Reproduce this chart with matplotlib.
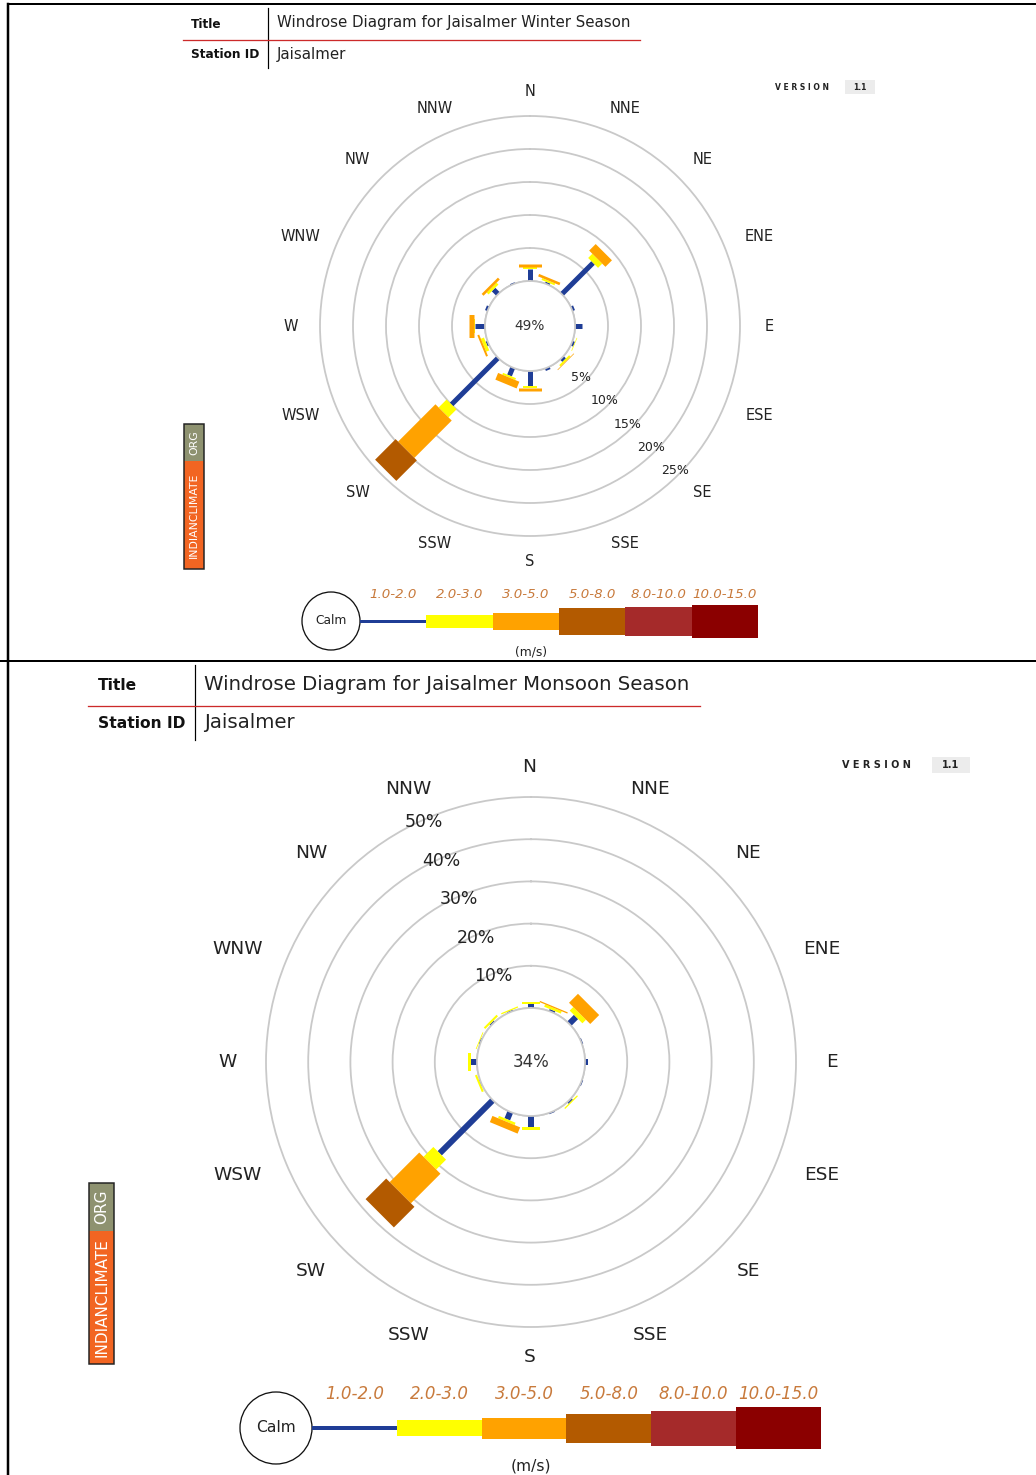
import numpy as np
import matplotlib.pyplot as plt
from matplotlib.patches import Rectangle, Circle

W, H = 1036, 1475
PT = 0.72  # points per pixel at dpi 100
GRID = "#c9c9c9"

directions = ["N", "NNE", "NE", "ENE", "E", "ESE", "SE", "SSE",
              "S", "SSW", "SW", "WSW", "W", "WNW", "NW", "NNW"]
speed_classes = ["1.0-2.0", "2.0-3.0", "3.0-5.0", "5.0-8.0", "8.0-10.0", "10.0-15.0"]
class_colors = ["#1f3d96", "#ffff00", "#ffa200", "#b35a00", "#a52a2a", "#8b0000"]

# winter season, % of time for each direction and speed class (m/s)
winter_1_2 = [1.8, 0.3, 6.7, 0.4, 1.0, 0.4, 0.5, 0.4, 2.2, 1.3, 10.0, 0.3, 1.5, 0.4, 1.0, 0.2]
winter_2_3 = [0.3, 0.3, 0.9, 0.0, 0.0, 0.1, 0.3, 0.0, 0.3, 0.3, 1.7, 0.5, 0.2, 0.0, 0.4, 0.0]
winter_3_5 = [0.5, 0.4, 1.4, 0.0, 0.0, 0.0, 0.1, 0.0, 0.6, 1.1, 8.0, 0.3, 0.7, 0.0, 0.4, 0.0]
winter_5_8 = [0, 0, 0, 0, 0, 0, 0, 0, 0, 0, 4.4, 0, 0, 0, 0, 0]
winter_8_10 = [0] * 16
winter_10_15 = [0] * 16
winter_calm = 49

# monsoon season
monsoon_1_2 = [1.0, 0.5, 2.3, 0.3, 0.6, 0.3, 0.5, 0.3, 2.5, 1.9, 17.8, 0.2, 1.5, 0.3, 0.4, 0.3]
monsoon_2_3 = [0.5, 0.6, 1.2, 0.0, 0.0, 0.0, 0.3, 0.0, 0.8, 0.6, 3.3, 0.5, 0.7, 0.2, 0.5, 0.3]
monsoon_3_5 = [0.0, 0.3, 3.0, 0.0, 0.0, 0.0, 0.0, 0.0, 0.0, 1.6, 9.9, 0.0, 0.0, 0.0, 0.0, 0.0]
monsoon_5_8 = [0, 0, 0, 0, 0, 0, 0, 0, 0, 0, 6.9, 0, 0, 0, 0, 0]
monsoon_8_10 = [0] * 16
monsoon_10_15 = [0] * 16
monsoon_calm = 34

fig = plt.figure(figsize=(W / 100, H / 100), dpi=100)
bg = fig.add_axes([0, 0, 1, 1])
bg.set_xlim(0, W)
bg.set_ylim(H, 0)
bg.axis("off")

# page frame lines
bg.plot([8, W], [4, 4], color="black", lw=2 * PT)
bg.plot([8, 8], [4, H], color="black", lw=2.5 * PT)
bg.plot([0, W], [661, 661], color="black", lw=2 * PT)


def draw_rose(cx, cy, scale, r0_px, rmax, step, series, widths, calm, fs,
              lab_r, char_w, ring_ang, ring_off, lab_dx=0):
    r0 = r0_px / scale
    R = (rmax + r0) * scale
    ax = fig.add_axes([(cx - R) / W, 1 - (cy + R) / H, 2 * R / W, 2 * R / H],
                      projection="polar")
    ax.set_theta_zero_location("N")
    ax.set_theta_direction(-1)
    ax.set_facecolor("none")
    ax.set_xticks([])
    ax.set_yticks(np.arange(0, rmax, step))
    ax.set_yticklabels([])
    ax.yaxis.grid(True, color=GRID, lw=1.3)
    for sp in ax.spines.values():
        sp.set_color(GRID)
        sp.set_linewidth(1.3)

    theta = np.deg2rad(np.arange(len(directions)) * 22.5)
    base = np.zeros(len(directions))
    for vals, col, w in zip(series, class_colors, widths):
        for t, b, v in zip(theta, base, vals):
            if v > 0:
                ax.plot([t, t], [b, b + v], color=col, lw=w * PT,
                        solid_capstyle="butt")
        base = base + np.array(vals)
    ax.set_rorigin(-r0)
    ax.set_rlim(0, rmax)

    for v in np.arange(step, rmax + 1, step):
        ax.text(np.deg2rad(ring_ang), v - ring_off, f"{v}%", fontsize=fs[1],
                ha="center", va="center", color="#222222")
    for d, t in zip(directions, theta):
        shift = char_w * len(d) / 2 * np.sin(t) + lab_dx
        ax.annotate(d, xy=(t, lab_r / scale - r0), xytext=(shift * PT, 0),
                    textcoords="offset points", fontsize=fs[0], ha="center",
                    va="center", color="#222222", annotation_clip=False)
    ax.text(0.5, 0.5, f"{calm}%", transform=ax.transAxes, fontsize=fs[2],
            ha="center", va="center", color="#333333")
    return ax


def header(x_lab, x_sep, x_red0, x_red1, y_title, y_red, y_sta, y0, y1,
           title, station, fs_lab, fs_txt):
    bg.text(x_lab, y_title + 2, "Title", fontsize=fs_lab, weight="bold",
            va="center", ha="left", color="#111111")
    bg.text(x_lab, y_sta, "Station ID", fontsize=fs_lab, weight="bold",
            va="center", ha="left", color="#111111")
    bg.text(x_sep + 9, y_title, title, fontsize=fs_txt, va="center", ha="left",
            color="#222222")
    bg.text(x_sep + 9, y_sta, station, fontsize=fs_txt, va="center", ha="left",
            color="#222222")
    bg.plot([x_sep, x_sep], [y0, y1], color="black", lw=1.2 * PT)
    bg.plot([x_red0, x_red1], [y_red, y_red], color="#cc2a2a", lw=1.3 * PT)


def version(x, y, bx, bw, bh, fs):
    bg.text(x, y, "V E R S I O N", fontsize=fs, weight="bold", va="center",
            ha="left", color="#222222")
    bg.add_patch(Rectangle((bx, y - bh / 2), bw, bh, color="#ececec", lw=0))
    bg.text(bx + bw / 2, y, "1.1", fontsize=fs, weight="bold", va="center",
            ha="center", color="#222222")


def badge(x, y0, y_mid, y1, w, fs):
    bg.add_patch(Rectangle((x, y0), w, y_mid - y0, color="#8e9270", lw=0))
    bg.add_patch(Rectangle((x, y_mid), w, y1 - y_mid, color="#f26522", lw=0))
    bg.add_patch(Rectangle((x, y0), w, y1 - y0, fill=False, ec="#222222", lw=1.5 * PT))
    bg.text(x + w / 2, (y0 + y_mid) / 2, "ORG", rotation=90, fontsize=fs,
            color="white", ha="center", va="center")
    bg.text(x + w / 2, (y_mid + y1) / 2, "INDIANCLIMATE", rotation=90, fontsize=fs,
            color="white", ha="center", va="center")


def legend(cx, cy, rc, x0, seg, heights, y_lab, x_unit, y_unit, fs, fs_lab):
    bg.add_patch(Circle((cx, cy), rc, fill=False, ec="#111111", lw=1.3 * PT))
    bg.text(cx, cy, "Calm", fontsize=fs, ha="center", va="center", color="#222222")
    for i, (lab, col, h) in enumerate(zip(speed_classes, class_colors, heights)):
        xs = x0 + i * seg
        bg.add_patch(Rectangle((xs, cy - h / 2), seg, h, color=col, lw=0))
        bg.text(xs + seg / 2, y_lab, lab, fontsize=fs_lab, style="italic",
                color="#c87a3c", ha="center", va="center")
    bg.text(x_unit, y_unit, "(m/s)", fontsize=fs, ha="center",
            va="center", color="#222222")


# ---- winter panel ----
header(191, 268, 183, 640, 22, 40, 55, 8, 68,
       "Windrose Diagram for Jaisalmer Winter Season", "Jaisalmer", 8.7, 10.8)
version(775, 87, 845, 30, 14, 5.5)
badge(184, 424, 461, 569, 20, 7.8)
draw_rose(530, 326, 6.6, 45, 25, 5,
          [winter_1_2, winter_2_3, winter_3_5, winter_5_8, winter_8_10, winter_10_15],
          [5, 14, 23, 30, 33, 36], winter_calm, (10.5, 9.0, 9.8),
          235, 9, 135, 0.8)
legend(331, 621, 29, 360, 66.3, [3, 13, 17, 27, 29, 33], 594, 531, 652, 8.8, 9.6)

# ---- monsoon panel ----
header(98, 195, 88, 700, 684, 706, 723, 665, 740,
       "Windrose Diagram for Jaisalmer Monsoon Season", "Jaisalmer", 11.2, 14.2)
version(842, 765, 932, 38, 16, 7)
badge(89, 1183, 1231, 1364, 25, 11)
draw_rose(531, 1062, 4.22, 54, 50, 10,
          [monsoon_1_2, monsoon_2_3, monsoon_3_5, monsoon_5_8, monsoon_8_10, monsoon_10_15],
          [6, 18, 30, 40, 44, 48], monsoon_calm, (13.3, 12.4, 12),
          295, 14, 336, 0.6, lab_dx=-1.5)
legend(276, 1428, 36, 312, 84.8, [4, 16, 21, 29, 35, 42], 1394, 531, 1466, 11.2, 12)

fig.savefig("out.png", dpi=100)
